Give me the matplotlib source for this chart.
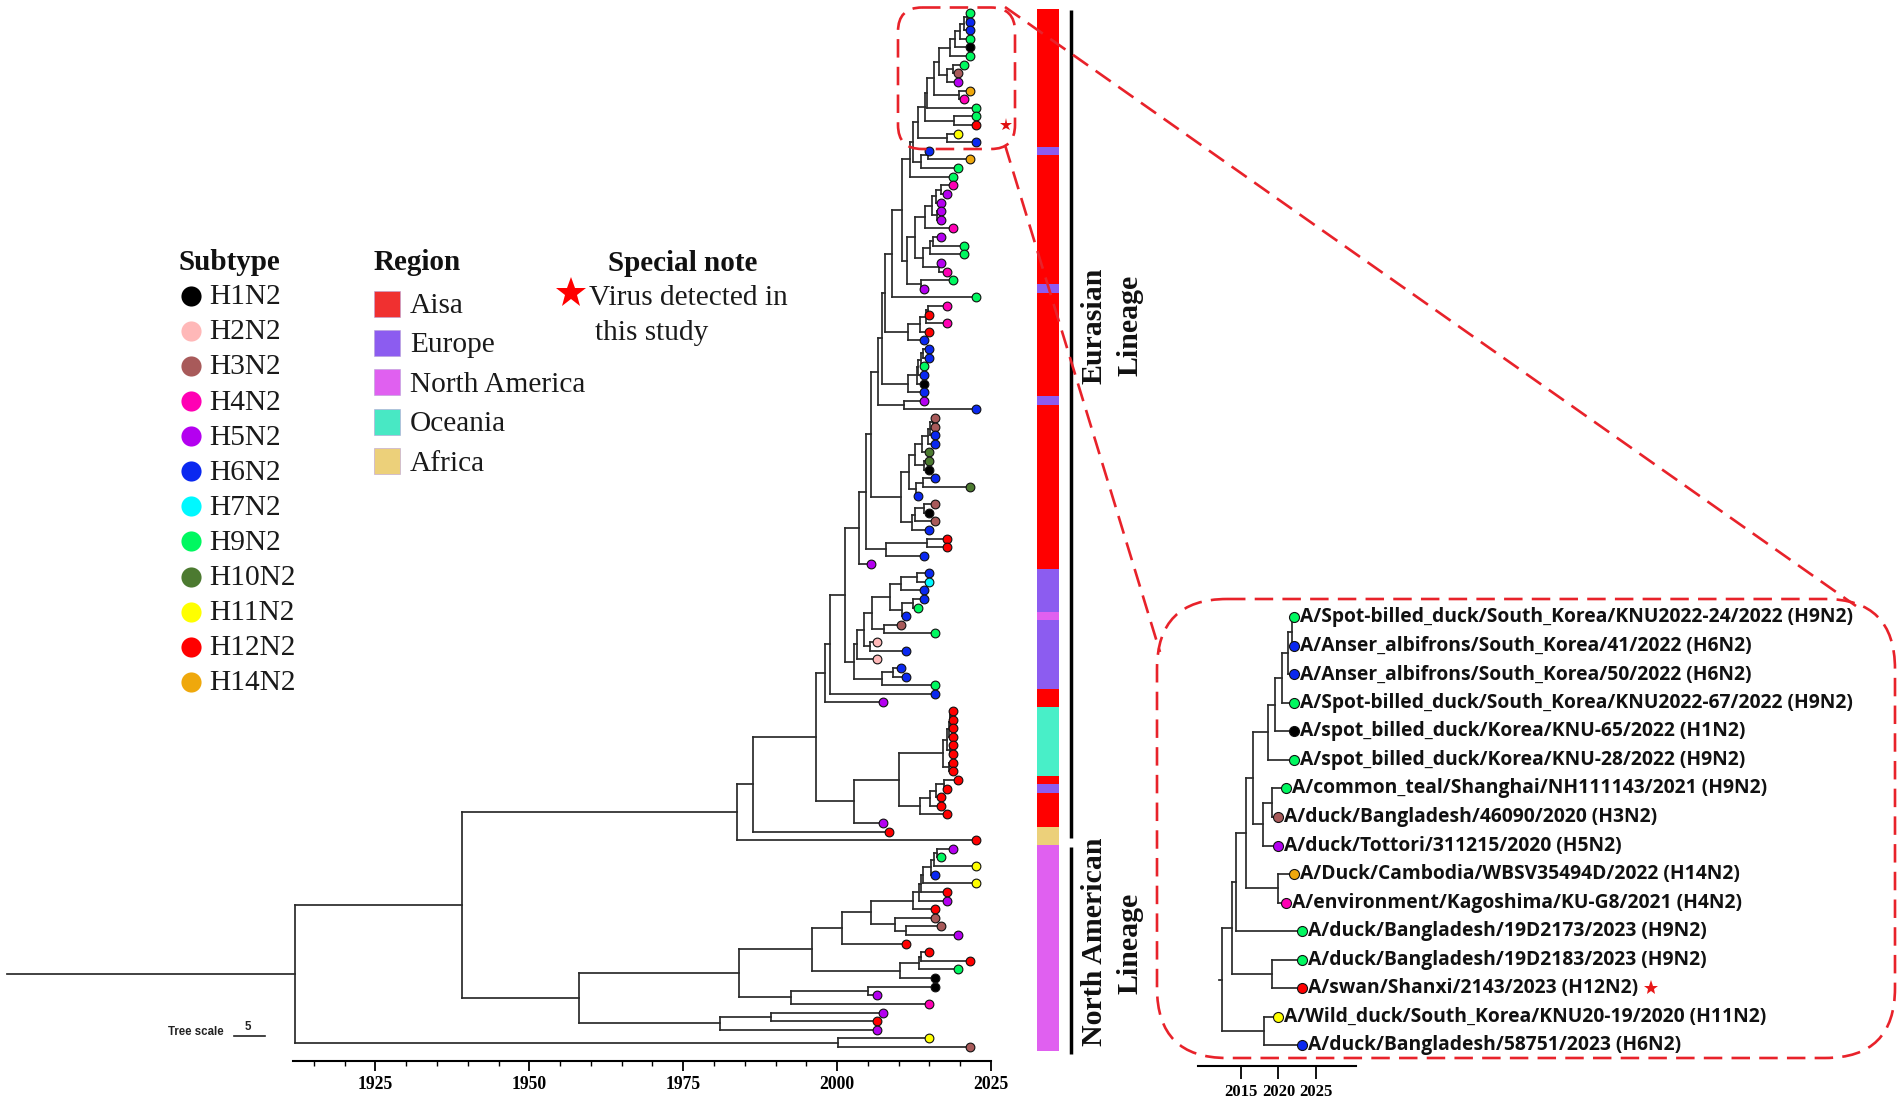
import matplotlib
matplotlib.use('Agg')
import matplotlib.pyplot as plt
from matplotlib.patches import FancyBboxPatch

W, H = 1902, 1103
SERIF = 'Liberation Serif'

subtype_names = ['H1N2', 'H2N2', 'H3N2', 'H4N2', 'H5N2', 'H6N2', 'H7N2', 'H9N2',
                 'H10N2', 'H11N2', 'H12N2', 'H14N2']
subtype_colors = ['#000000', '#FFB8B8', '#A85A5A', '#FF00B4', '#B400F0', '#0A28F0',
                  '#00F8FF', '#00F860', '#4C7A30', '#FFFF00', '#FF0000', '#EFA80C']

region_names = ['Aisa', 'Europe', 'North America', 'Oceania', 'Africa']
region_colors = ['#F03030', '#8C5CF0', '#E060F0', '#48E8C4', '#ECD07A']

# strip down the tree, top to bottom: region index, number of tips
strip_regions = [0, 1, 0, 1, 0, 1, 0, 1, 2, 1, 0, 3, 0, 1, 0, 4, 2]
strip_runs = [16, 1, 15, 1, 12, 1, 19, 5, 1, 8, 2, 8, 1, 1, 4, 2, 24]
strip_colors = ['#FF0000', '#8C5CF0', '#E060F0', '#48EFC8', '#ECD07A']

tip_years = [2021.6] * 6 + [2020.6, 2019.7, 2019.7, 2021.6, 2020.6, 2022.5, 2022.5, 2022.5,
             2019.7, 2022.5, 2015.0, 2021.6, 2019.7, 2018.75, 2018.75, 2017.8, 2016.9, 2016.9,
             2016.9, 2018.75, 2016.9, 2020.65, 2020.65, 2016.9, 2017.8, 2018.75, 2014.05, 2022.5,
             2017.8, 2014.97, 2017.8, 2014.97, 2014.05, 2014.97, 2014.97, 2014.05, 2014.05,
             2014.05, 2014.05, 2014.05, 2022.5, 2015.9, 2015.9, 2015.9, 2015.9, 2014.97, 2014.97,
             2014.97, 2015.9, 2021.6, 2013.1, 2015.9, 2014.97, 2015.9, 2014.97, 2017.8, 2017.8,
             2014.05, 2005.56, 2014.97, 2014.97, 2014.05, 2014.05, 2013.1, 2011.2, 2010.3, 2015.9,
             2006.5, 2011.2, 2006.5, 2010.3, 2011.2, 2015.9, 2015.9, 2007.5] + [2018.75] * 8 + [
             2019.7, 2017.85, 2016.9, 2016.9, 2017.85, 2007.46, 2008.43, 2022.5, 2018.75, 2016.9,
             2022.5, 2015.95, 2022.5, 2017.85, 2017.85, 2015.95, 2015.95, 2016.9, 2019.7, 2011.2,
             2014.9, 2021.6, 2019.6, 2015.9, 2015.9, 2006.5, 2014.9, 2007.46, 2006.5, 2006.5,
             2014.9, 2021.6]

tip_subtypes = ['H9N2', 'H6N2', 'H6N2', 'H9N2', 'H1N2', 'H9N2', 'H9N2', 'H3N2', 'H5N2', 'H14N2',
                'H4N2', 'H9N2', 'H9N2', 'H12N2', 'H11N2', 'H6N2', 'H6N2', 'H14N2', 'H9N2', 'H9N2',
                'H4N2', 'H5N2', 'H5N2', 'H5N2', 'H5N2', 'H4N2', 'H5N2', 'H9N2', 'H9N2', 'H5N2',
                'H4N2', 'H9N2', 'H5N2', 'H9N2', 'H4N2', 'H12N2', 'H4N2', 'H12N2', 'H6N2', 'H6N2',
                'H6N2', 'H9N2', 'H6N2', 'H1N2', 'H6N2', 'H5N2', 'H6N2', 'H3N2', 'H3N2', 'H6N2',
                'H6N2', 'H10N2', 'H10N2', 'H1N2', 'H6N2', 'H10N2', 'H6N2', 'H3N2', 'H1N2', 'H3N2',
                'H6N2', 'H12N2', 'H12N2', 'H6N2', 'H5N2', 'H6N2', 'H7N2', 'H6N2', 'H6N2', 'H9N2',
                'H6N2', 'H3N2', 'H9N2', 'H2N2', 'H6N2', 'H2N2', 'H6N2', 'H6N2', 'H9N2', 'H6N2',
                'H5N2'] + ['H12N2'] * 13 + ['H5N2', 'H12N2', 'H12N2', 'H5N2', 'H9N2', 'H11N2',
                'H6N2', 'H11N2', 'H12N2', 'H5N2', 'H12N2', 'H3N2', 'H3N2', 'H5N2', 'H12N2', 'H12N2',
                'H12N2', 'H9N2', 'H1N2', 'H1N2', 'H5N2', 'H4N2', 'H5N2', 'H12N2', 'H5N2', 'H11N2',
                'H3N2']

# clades are [node year, upper child, lower child], an int is a tip index
top_clade = [2013.1, [2014.2, [2014.6, [2015.8, [2016.6,
             [2018.4, [2019.2, [2020.0, [2020.6, [2021.1, 0, 1], 2], 3], 4], 5],
             [2017.8, [2018.9, 6, 7], 8]], [2019.8, 9, 10]], 11], [2019.0, 12, 13]],
             [2017.9, 14, 15]]
clade_b = [2011.35, [2012.65, [2014.3, [2015.4, [2016.05, [2016.9, 20, 21], 22],
           [2016.3, 23, 24]], 25], [2013.9, [2015.1, [2015.5, 26, 27], 28], [2016.6, 29, 30]]],
           [2013.7, 31, 32]]
clade_a = [2008.9, [2010.5, [2011.8, [2012.3, top_clade, [2013.6, [2014.8, 16, 17], 18]], 19],
           clade_b], 33]
clade_c = [2006.6, [2007.3, [2007.8, clade_a, [2011.45, [2013.5, [2014.4, [2014.7, 34, 35], 36], 37], 38]],
           [2011.45, [2012.9, [2013.2, [2013.6, [2014.0, 39, 40], 41], 42], 43], 44]], [2010.8, 45, 46]]
clade_d = [2010.4, [2011.6, [2012.65, [2013.84, [2014.8, [2015.1, [2015.5, 47, 48], 49], 50], 51],
           [2014.05, 52, 53]], [2012.75, [2013.95, 54, 55], 56]],
           [2012.16, [2012.7, [2014.16, 57, 58], 59], 60]]
clade_e = [2003.5, [2004.7, [2005.5, clade_c, clade_d], [2007.94, [2014.65, 61, 62], 63]], 64]
clade_f = [2002.75, [2003.29, [2004.32, [2005.67, [2008.6, [2010.4, [2013.0, 65, 66], 67],
           [2010.5, [2012.4, 68, 69], 70]], [2007.56, 71, 72]], [2005.4, 73, 74]], 75],
           [2007.24, [2009.13, 76, 77], 78]]
clade_g = [2010.05, [2017.24, [2017.9, [2018.1, [2018.27, [2018.4, 81, 82], 83], 84], [2018.3, 85, 86]],
           [2018.2, 87, 88]], [2013.4, [2015.13, [2016.1, [2017.4, 89, 90], 91], 92], 93]]
eurasian = [1983.7, [1986.3, [1996.5, [1998.1, [1998.9, [2001.3, clade_e, clade_f], 79], 80],
            [2002.7, clade_g, 94]], 95], 96]
clade_h = [2005.5, [2012.26, [2013.24, [2013.6, [2014.0, [2015.2, [2015.8, [2016.27, 97, 98], 99], 100],
           101], 102], 103], 104], [2009.4, 105, [2011.2, 106, 107]]]
american = [1958.0, [1984.1, [1995.95, [2000.75, clade_h, 108],
            [2010.2, [2013.27, [2013.7, 109, 110], 111], 112]],
            [1992.55, [2005.05, 113, 114], 115]], [1981.0, [1989.3, 116, 117], 118]]
tree = [1912.0, [1939.1, eurasian, american], [2000.1, 119, 120]]
root_start = 1865.2

axis_major = [1925, 1950, 1975, 2000, 2025]
axis_minor = [1915, 1920, 1930, 1935, 1940, 1945, 1955, 1960, 1965, 1970, 1980, 1985, 1990,
              1995, 2005, 2010, 2015, 2020]

inset_labels = ['A/Spot-billed_duck/South_Korea/KNU2022-24/2022 (H9N2)',
                'A/Anser_albifrons/South_Korea/41/2022 (H6N2)',
                'A/Anser_albifrons/South_Korea/50/2022 (H6N2)',
                'A/Spot-billed_duck/South_Korea/KNU2022-67/2022 (H9N2)',
                'A/spot_billed_duck/Korea/KNU-65/2022 (H1N2)',
                'A/spot_billed_duck/Korea/KNU-28/2022 (H9N2)',
                'A/common_teal/Shanghai/NH111143/2021 (H9N2)',
                'A/duck/Bangladesh/46090/2020 (H3N2)',
                'A/duck/Tottori/311215/2020 (H5N2)',
                'A/Duck/Cambodia/WBSV35494D/2022 (H14N2)',
                'A/environment/Kagoshima/KU-G8/2021 (H4N2)',
                'A/duck/Bangladesh/19D2173/2023 (H9N2)',
                'A/duck/Bangladesh/19D2183/2023 (H9N2)',
                'A/swan/Shanxi/2143/2023 (H12N2)',
                'A/Wild_duck/South_Korea/KNU20-19/2020 (H11N2)',
                'A/duck/Bangladesh/58751/2023 (H6N2)']
inset_years = [2022.1] * 6 + [2021.0, 2020.0, 2020.0, 2022.1, 2021.0, 2023.2, 2023.2, 2023.2,
                              2020.0, 2023.2]
inset_subtypes = tip_subtypes[:16]
inset_tree = [2012.5, [2013.8, [2014.3, [2015.7, [2016.6,
              [2018.6, [2019.5, [2020.5, [2021.3, [2021.8, 0, 1], 2], 3], 4], 5],
              [2018.0, [2019.2, 6, 7], 8]], [2020.0, 9, 10]], 11], [2019.2, 12, 13]],
              [2018.1, 14, 15]]
inset_root_start = 2012.1
inset_ticks = [2015, 2020, 2025]

color_of = dict(zip(subtype_names, subtype_colors))
plt.rcParams['font.family'] = [SERIF, 'DejaVu Sans']


def px_axes(fig, x0, x1, y_top, y_bottom):
    ax = fig.add_axes([x0 / W, 1 - y_bottom / H, (x1 - x0) / W, (y_bottom - y_top) / H])
    ax.patch.set_alpha(0)
    return ax


def draw_clade(ax, node, parent, years, subtypes, lw, size):
    line = dict(color='#2a2a2a', lw=lw, clip_on=False, solid_capstyle='projecting', zorder=2)
    if isinstance(node, int):
        ax.plot([parent, years[node]], [node, node], **line)
        ax.plot(years[node], node, 'o', ms=size, mfc=color_of[subtypes[node]], mec='#111111',
                mew=0.8, clip_on=False, zorder=3)
        return node
    year, upper, lower = node
    y1 = draw_clade(ax, upper, year, years, subtypes, lw, size)
    y2 = draw_clade(ax, lower, year, years, subtypes, lw, size)
    ax.plot([year, year], [y1, y2], **line)
    mid = (y1 + y2) / 2
    ax.plot([parent, year], [mid, mid], **line)
    return mid


def time_axis(ax, major, minor, tick_len, font_size, pad):
    for side in ['left', 'right', 'top']:
        ax.spines[side].set_visible(False)
    ax.spines['bottom'].set_linewidth(1.5)
    ax.set_yticks([])
    ax.set_xticks(major)
    ax.set_xticks(minor, minor=True)
    ax.tick_params(axis='x', which='major', length=tick_len, width=1.3, pad=pad)
    ax.tick_params(axis='x', which='minor', length=tick_len / 2, width=1.0)
    for label in ax.get_xticklabels():
        label.set_fontweight('bold')
        label.set_fontsize(font_size)


fig = plt.figure(figsize=(W / 100, H / 100), dpi=100, facecolor='white')

# main tree, x in years and y in tip number
tip_top, tip_step = 13.0, 8.617
axis_y = 1060.7
ylim_main = ((axis_y - tip_top) / tip_step, (0 - tip_top) / tip_step)
ax_tree = px_axes(fig, 293, 991, 0, axis_y)
ax_tree.set_xlim(1911.6, 2024.9)
ax_tree.set_ylim(*ylim_main)
draw_clade(ax_tree, tree, root_start, tip_years, tip_subtypes, 1.25, 6.3)
time_axis(ax_tree, axis_major, axis_minor, 7.2, 12.7, 4)

# scale bar of 5 years
ax_tree.plot([1902, 1907], [118.7, 118.7], color='#222222', lw=1.2, clip_on=False)

# region strip
ax_strip = px_axes(fig, 1036.7, 1059.3, 0, axis_y)
ax_strip.set_xlim(0, 1)
ax_strip.set_ylim(*ylim_main)
ax_strip.axis('off')
start = 0
for region, run in zip(strip_regions, strip_runs):
    ax_strip.barh(start + run / 2 - 0.5, 1, height=run, color=strip_colors[region], lw=0)
    start += run

# everything placed by hand, in pixels
ax = px_axes(fig, 0, W, 0, H)
ax.set_xlim(0, W)
ax.set_ylim(H, 0)
ax.axis('off')
ax.vlines(1070.5, 10, 838, color='black', lw=2.5)
ax.vlines(1070.5, 847, 1054, color='black', lw=2.5)

lineage = dict(rotation=90, ha='center', va='center', fontsize=21.5, fontweight='bold', color='#111111')
ax.text(1094, 326, 'Eurasian', **lineage)
ax.text(1130, 325, 'Lineage', **lineage)
ax.text(1094, 942, 'North American', **lineage)
ax.text(1130, 943, 'Lineage', **lineage)

# legends
title = dict(fontsize=21, fontweight='bold', va='center', color='#111111')
legend_text = dict(fontsize=21.2, va='center', color='#1a1a1a')
ax.text(178.5, 262.5, 'Subtype', **title)
for i, (name, color) in enumerate(zip(subtype_names, subtype_colors)):
    y = 295.7 + i * 35.1
    ax.plot(191, y, 'o', ms=14.5, mfc=color, mew=0)
    ax.text(209, y + 1.5, name, **legend_text)
ax.text(374, 262.5, 'Region', **title)
for i, (name, color) in enumerate(zip(region_names, region_colors)):
    y = 303.5 + i * 39.4
    ax.add_patch(plt.Rectangle((374.3, y - 13), 26, 26, fc=color, ec='#b8a0d8', lw=0.4))
    ax.text(410, y + 2.5, name, **legend_text)
ax.text(683, 263.5, 'Special note', ha='center', **title)
ax.plot(571, 293, '*', ms=23, mfc='#FF0000', mew=0)
ax.text(589, 298, 'Virus detected in', **legend_text)
ax.text(595, 333, 'this study', **legend_text)
ax.plot(1006, 125, '*', ms=9.5, mfc='#E01010', mew=0)

ax.text(167.5, 1032, 'Tree scale', family='Liberation Sans', fontweight='bold', fontsize=8.3,
        va='center', color='#222222')
ax.text(248, 1027, '5', family='Liberation Sans', fontweight='bold', fontsize=8.3, ha='center',
        va='center', color='#222222')

# dashed zoom frames
dash = dict(ec='#E8222A', fc='none', lw=1.9, linestyle=(0, (7, 3.5)), zorder=6)
ax.add_patch(FancyBboxPatch((898, 7.5), 117, 141.5, boxstyle='round,pad=0,rounding_size=24', **dash))
ax.add_patch(FancyBboxPatch((1157, 599), 738, 459, boxstyle='round,pad=0,rounding_size=70', **dash))
line_dash = dict(color='#E8222A', lw=1.9, linestyle=(0, (7, 3.5)), zorder=6)
ax.plot([1005, 1856], [7, 606], **line_dash)
ax.plot([1005, 1160], [145, 652], **line_dash)

# enlarged clade
inset_axis_y = 1065.7
inset_top, inset_step = 617.3, 28.53
ax_inset = px_axes(fig, 1197.7, 1355.7, 560, inset_axis_y)
ax_inset.set_xlim(2009.2, 2030.35)
ax_inset.set_ylim((inset_axis_y - inset_top) / inset_step, (560 - inset_top) / inset_step)
draw_clade(ax_inset, inset_tree, inset_root_start, inset_years, inset_subtypes, 1.25, 7.2)
time_axis(ax_inset, inset_ticks, [], 9, 12, 4)
for i, label in enumerate(inset_labels):
    ax_inset.annotate(label, (inset_years[i], i), xytext=(4.3, 0), textcoords='offset points',
                      family='Open Sans', fontweight='bold', fontsize=13.9, va='center',
                      color='#111111', annotation_clip=False)
ax.plot(1651, 988, '*', ms=11, mfc='#E81818', mew=0, zorder=7)

fig.savefig('out.png', dpi=100)
